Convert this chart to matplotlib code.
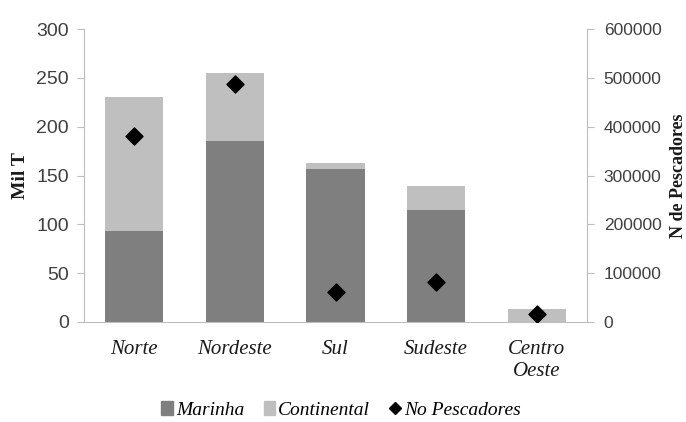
import matplotlib
matplotlib.use("Agg")
import matplotlib.pyplot as plt
import numpy as np
from matplotlib.lines import Line2D
from matplotlib.patches import Patch
from matplotlib.font_manager import FontProperties

categories = ["Norte", "Nordeste", "Sul", "Sudeste", "Centro\nOeste"]
marinha = [93, 185, 157, 115, 0]
continental = [137, 70, 6, 24, 13]
pescadores = [381000, 487000, 61000, 81000, 16000]

dark = "#7f7f7f"
light = "#bfbfbf"
axcol = "#bdbdbd"
txt = "#404040"

cat_fp = FontProperties(family="Liberation Serif", style="italic", size=15)
leg_fp = FontProperties(family="Liberation Serif", style="italic", size=14)
lab_fp = FontProperties(family="Liberation Serif", weight="bold", size=14)
lab2_fp = FontProperties(family="Liberation Serif", weight="bold", size=13)
tick_fp = FontProperties(family="Liberation Sans", size=14)
tick2_fp = FontProperties(family="Liberation Sans", size=12.5)

fig = plt.figure(figsize=(6.86, 4.22), dpi=100)
ax = fig.add_axes([84/686, 1-322/422, (587-84)/686, (322-29)/422])
x = np.arange(len(categories))
ax.bar(x, marinha, width=0.58, color=dark, zorder=2)
ax.bar(x, continental, width=0.58, bottom=marinha, color=light, zorder=2)
ax.set_xlim(-0.5, len(categories) - 0.5)
ax.set_ylim(0, 300)
ax.set_yticks(range(0, 301, 50))
ax.tick_params(axis="y", colors=axcol, labelcolor=txt, length=5, direction="out", pad=6)
for lab in ax.get_yticklabels():
    lab.set_fontproperties(tick_fp)
ax.set_xticks(x)
ax.set_xticklabels(categories)
for lab in ax.get_xticklabels():
    lab.set_fontproperties(cat_fp)
    lab.set_color("#1a1a1a")
ax.tick_params(axis="x", length=0, pad=13)
for s in ["top", "right"]:
    ax.spines[s].set_visible(False)
for s in ["left", "bottom"]:
    ax.spines[s].set_color(axcol)
ax.set_ylabel("Mil T", fontproperties=lab_fp, color="#1a1a1a", labelpad=5)

ax2 = ax.twinx()
ax2.set_ylim(0, 600000)
ax2.set_yticks(range(0, 600001, 100000))
ax2.set_yticklabels([str(v) for v in range(0, 600001, 100000)])
ax2.scatter(x, pescadores, marker="D", s=75, color="black", zorder=3)
ax2.tick_params(axis="y", colors=axcol, labelcolor=txt, length=5, direction="out", pad=7)
for lab in ax2.get_yticklabels():
    lab.set_fontproperties(tick2_fp)
for s in ["top", "left", "bottom"]:
    ax2.spines[s].set_visible(False)
ax2.spines["right"].set_color(axcol)
ax2.set_ylabel("N de Pescadores", fontproperties=lab2_fp, color="#1a1a1a", labelpad=6)

handles = [Patch(color=dark), Patch(color=light),
           Line2D([], [], marker="D", color="black", linestyle="none", markersize=6)]
labels = ["Marinha", "Continental", "No Pescadores"]
fig.legend(handles, labels, loc="center", bbox_to_anchor=(341/686, 1-410/422), ncol=3,
           frameon=False, prop=leg_fp,
           handlelength=0.6, handletextpad=0.15, columnspacing=1.0)

fig.savefig("out.png", dpi=100)
